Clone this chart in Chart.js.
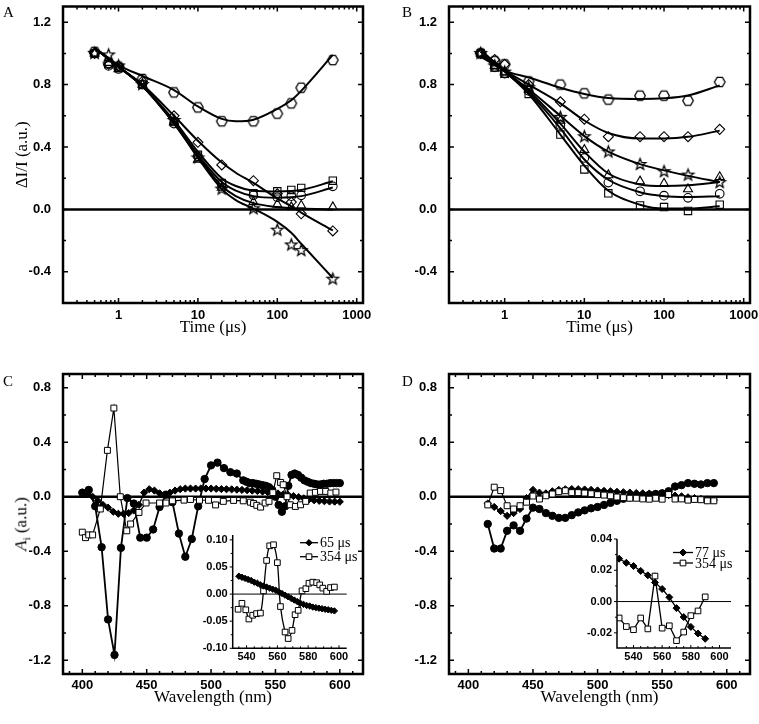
<!DOCTYPE html>
<html>
<head>
<meta charset="utf-8">
<title>Decay kinetics and amplitude spectra</title>
<script src="https://cdn.jsdelivr.net/npm/chart.js@4.4.1/dist/chart.umd.min.js"></script>
<style>
  html, body { margin: 0; padding: 0; background: #fff; }
  #page { position: relative; width: 759px; height: 724px; overflow: hidden; background: #fff; }
  #page canvas { position: absolute; }
  .letter { position: absolute; font: 15px "Liberation Serif", "Times New Roman", serif; line-height: 1; color: #000; }
  #ylabC { position: absolute; left: 22px; top: 524px; transform: translate(-50%, -50%) rotate(-90deg);
           white-space: nowrap; font: 17px "Liberation Serif", "Times New Roman", serif; color: #000; }
  #ylabC sub { font-size: 11px; }
</style>
</head>
<body>
<div id="page">
  <canvas id="chartA" width="380" height="345" style="left:0;top:0"></canvas>
  <canvas id="chartB" width="373" height="345" style="left:386px;top:0"></canvas>
  <canvas id="chartC" width="380" height="364" style="left:0;top:360px"></canvas>
  <canvas id="chartD" width="373" height="364" style="left:386px;top:360px"></canvas>
  <canvas id="insetC" width="180" height="140" style="left:190px;top:525px"></canvas>
  <canvas id="insetD" width="175" height="135" style="left:575px;top:530px"></canvas>
  <div class="letter" style="left:3px;top:5px">A</div>
  <div class="letter" style="left:402px;top:5px">B</div>
  <div class="letter" style="left:3px;top:374px">C</div>
  <div class="letter" style="left:402px;top:374px">D</div>
  <div id="ylabC"><i>A</i><sub>i</sub> (a.u.)</div>
</div>
<script>
// ---- panel A: normalised transients (time in microseconds)
const timeA = [0.5, 0.75, 1, 2, 5, 10, 20, 50, 100, 150, 200, 500];
const aHexagon = [1.01, 0.94, 0.915, 0.836, 0.75, 0.654, 0.565, 0.565, 0.614, 0.68, 0.78, 0.957];
const aDiamond = [1.0, 0.93, 0.92, 0.82, 0.6, 0.43, 0.285, 0.184, 0.1, 0.047, -0.028, -0.138];
const aSquare = [1.0, 0.93, 0.91, 0.8, 0.56, 0.35, 0.17, 0.104, 0.116, 0.125, 0.138, 0.184];
const aCircle = [1.0, 0.92, 0.9, 0.8, 0.55, 0.34, 0.16, 0.09, 0.078, 0.085, 0.09, 0.148];
const aTriangle = [1.0, 0.94, 0.9, 0.8, 0.56, 0.32, 0.14, 0.047, 0.032, 0.015, 0.025, 0.015];
const aStar = [1.0, 0.99, 0.92, 0.8, 0.57, 0.33, 0.13, 0.004, -0.133, -0.228, -0.264, -0.447];

const fitTimeA = [0.5, 1, 2, 5, 10, 20, 30, 50, 100, 150, 200, 500];
const aHexagonFit = [1.035, 0.925, 0.855, 0.765, 0.66, 0.58, 0.565, 0.575, 0.645, 0.7, 0.76, 0.99];
const aDiamondFit = [1.035, 0.915, 0.8, 0.6, 0.44, 0.3, 0.235, 0.17, 0.07, 0.02, -0.02, -0.135];
const aSquareFit = [1.035, 0.915, 0.79, 0.57, 0.37, 0.2, 0.15, 0.12, 0.115, 0.118, 0.125, 0.18];
const aCircleFit = [1.035, 0.915, 0.79, 0.555, 0.35, 0.175, 0.12, 0.085, 0.075, 0.078, 0.085, 0.14];
const aTriangleFit = [1.035, 0.915, 0.79, 0.55, 0.34, 0.15, 0.085, 0.04, 0.015, 0.008, 0.005, 0.0];
const aStarFit = [1.035, 0.915, 0.79, 0.555, 0.33, 0.13, 0.06, 0.005, -0.08, -0.15, -0.22, -0.44];

// ---- panel B
const timeB = [0.5, 0.75, 1, 2, 5, 10, 20, 50, 100, 200, 500];
const bHexagon = [1.0, 0.95, 0.93, 0.82, 0.8, 0.744, 0.704, 0.729, 0.729, 0.697, 0.817];
const bDiamond = [1.0, 0.96, 0.93, 0.8, 0.69, 0.578, 0.466, 0.466, 0.466, 0.466, 0.513];
const bStar = [1.0, 0.92, 0.88, 0.78, 0.59, 0.466, 0.368, 0.288, 0.242, 0.22, 0.172];
const bTriangle = [1.0, 0.92, 0.88, 0.77, 0.57, 0.382, 0.22, 0.18, 0.166, 0.13, 0.208];
const bCircle = [1.0, 0.91, 0.87, 0.76, 0.54, 0.33, 0.172, 0.116, 0.088, 0.074, 0.1];
const bSquare = [1.0, 0.91, 0.87, 0.74, 0.48, 0.256, 0.103, 0.025, 0.015, -0.01, 0.03];

const fitTimeB = [0.5, 1, 2, 5, 10, 20, 50, 100, 200, 500];
const bHexagonFit = [0.98, 0.89, 0.845, 0.78, 0.74, 0.714, 0.708, 0.712, 0.73, 0.795];
const bDiamondFit = [0.99, 0.89, 0.8, 0.68, 0.57, 0.49, 0.455, 0.455, 0.465, 0.505];
const bStarFit = [1.01, 0.885, 0.77, 0.6, 0.47, 0.37, 0.29, 0.25, 0.215, 0.175];
const bTriangleFit = [1.01, 0.885, 0.76, 0.55, 0.37, 0.23, 0.16, 0.15, 0.155, 0.175];
const bCircleFit = [1.02, 0.885, 0.75, 0.52, 0.32, 0.19, 0.11, 0.085, 0.08, 0.085];
const bSquareFit = [1.02, 0.885, 0.74, 0.48, 0.28, 0.12, 0.03, 0.005, 0.005, 0.02];

// ---- panel C: amplitude spectra (nm)
const cCircleNm = [400, 405, 410, 415, 420, 425, 430, 435, 440, 445, 450, 455, 460, 465, 470, 475, 480, 485, 490, 495,
  500, 505, 510, 515, 520, 525, 527.5, 530, 532.5, 535, 537.5, 540, 542.5, 545, 547.5, 550, 552.5, 555, 557.5, 560,
  562.5, 565, 567.5, 570, 572.5, 575, 577.5, 580, 582.5, 585, 587.5, 590, 592.5, 595, 597.5, 600];
const cCircle = [0.03, 0.05, -0.07, -0.37, -0.9, -1.16, -0.375, -0.01, -0.05, -0.3, -0.3, -0.24, -0.075, 0.015, -0.04, -0.27, -0.44, -0.31, -0.07, 0.13,
  0.23, 0.25, 0.21, 0.18, 0.17, 0.12, 0.11, 0.1, 0.1, 0.095, 0.09, 0.085, 0.08, 0.07, 0.05, 0.0, -0.06, -0.11, -0.07, 0.08,
  0.16, 0.17, 0.16, 0.14, 0.12, 0.11, 0.1, 0.095, 0.09, 0.09, 0.095, 0.095, 0.1, 0.1, 0.1, 0.1];
const cDiamondNm = [400, 404, 408, 412, 416, 420, 424, 428, 432, 436, 440, 444, 448, 452, 456, 460, 464, 468, 472, 476,
  480, 484, 488, 492, 496, 500, 504, 508, 512, 516, 520, 524, 528, 532, 536, 540, 544, 548, 552, 556,
  560, 564, 568, 572, 576, 580, 584, 588, 592, 596, 600];
const cDiamond = [0.03, 0.02, 0.0, -0.03, -0.06, -0.08, -0.11, -0.125, -0.125, -0.12, -0.1, -0.06, 0.03, 0.055, 0.045, 0.025, 0.015, 0.03, 0.045, 0.055,
  0.06, 0.06, 0.06, 0.06, 0.06, 0.06, 0.058, 0.056, 0.055, 0.054, 0.052, 0.05, 0.048, 0.045, 0.042, 0.038, 0.034, 0.03, 0.024, 0.018,
  0.012, 0.005, -0.003, -0.012, -0.02, -0.026, -0.03, -0.033, -0.035, -0.036, -0.037];
const cSquareNm = [400, 402.5, 405, 408, 414, 419.5, 424.5, 429.5, 434.5, 437.5, 444, 449.5, 460, 465, 470, 479, 484, 491, 498, 503.5,
  509.5, 517.5, 525, 530.5, 533, 535.5, 538.5, 542, 545, 548, 551, 554, 556, 559, 561.5, 565.5, 569.5, 573.5, 577, 581,
  585, 589, 593, 597];
const cSquare = [-0.26, -0.3, -0.28, -0.28, -0.09, 0.34, 0.65, 0.0, -0.25, -0.2, -0.115, -0.046, -0.046, -0.046, -0.03, -0.025, -0.02, -0.026, -0.026, -0.06,
  -0.034, -0.027, -0.03, -0.04, -0.05, -0.063, -0.076, -0.046, -0.034, 0.03, 0.154, 0.105, 0.088, 0.0, -0.059, -0.071, -0.059, -0.034, 0.027, 0.032,
  0.039, 0.039, 0.027, 0.034];

// inset C
const cInsetDiamondNm = [535, 537, 539, 541, 543, 545, 547, 549, 551, 553, 555, 557, 559, 561, 563, 565, 567, 569, 571, 573,
  575, 577, 579, 581, 583, 585, 587, 589, 591, 593, 595, 597];
const cInsetDiamond = [0.033, 0.031, 0.029, 0.027, 0.025, 0.022, 0.02, 0.017, 0.015, 0.013, 0.011, 0.009, 0.007, 0.004, 0.001, -0.002, -0.005, -0.008, -0.011, -0.014,
  -0.017, -0.019, -0.021, -0.022, -0.024, -0.025, -0.026, -0.027, -0.028, -0.029, -0.03, -0.031];
const cInsetSquareNm = [534.5, 537, 539.5, 541.5, 544, 546.5, 549, 551, 553, 555, 557.5, 560, 562, 565, 567, 569.5, 571.5, 573.5, 576, 578.5,
  580.5, 583, 585.5, 587.5, 589.5, 592, 594.5, 597];
const cInsetSquare = [-0.028, -0.017, -0.029, -0.046, -0.039, -0.036, -0.035, 0.006, 0.062, 0.089, 0.091, 0.058, -0.023, -0.07, -0.082, -0.067, -0.038, -0.03, 0.006, 0.01,
  0.02, 0.022, 0.021, 0.017, 0.011, 0.005, 0.012, 0.013];

// ---- panel D
const dNm = [415, 420, 425, 430, 435, 440, 445, 450, 455, 460, 465, 470, 475, 480, 485, 490, 495, 500,
  505, 510, 515, 520, 525, 530, 535, 540, 545, 550, 555, 560, 565, 570, 575, 580, 585, 590];
const dCircle = [-0.2, -0.38, -0.38, -0.25, -0.21, -0.25, -0.16, -0.08, -0.09, -0.12, -0.14, -0.155, -0.155, -0.135, -0.115, -0.1, -0.085, -0.075,
  -0.06, -0.045, -0.03, -0.015, -0.005, 0.005, 0.01, 0.015, 0.02, 0.025, 0.04, 0.075, 0.085, 0.1, 0.095, 0.09, 0.1, 0.1];
const dDiamond = [-0.05, -0.075, -0.105, -0.14, -0.12, -0.09, -0.01, 0.05, 0.03, 0.025, 0.04, 0.05, 0.055, 0.056, 0.055, 0.053, 0.05, 0.046,
  0.043, 0.04, 0.036, 0.033, 0.03, 0.027, 0.025, 0.023, 0.02, 0.017, 0.012, 0.008, 0.003, -0.004, -0.01, -0.016, -0.02, -0.024];
const dSquare = [-0.06, 0.07, 0.045, -0.066, -0.09, -0.066, -0.04, 0.005, -0.017, 0.007, 0.02, 0.037, 0.044, 0.03, 0.03, 0.027, 0.022, 0.015,
  0.012, 0.007, -0.002, -0.007, -0.011, -0.011, -0.016, -0.018, -0.011, -0.018, 0.016, -0.017, -0.016, -0.025, -0.02, -0.022, -0.03, -0.03];

// inset D
const dInsetNm = [530, 535, 540, 545, 550, 555, 560, 565, 570, 575, 580, 585, 590];
const dInsetDiamond = [0.0274, 0.0248, 0.0227, 0.0196, 0.0168, 0.0122, 0.008, 0.0027, -0.0042, -0.0099, -0.0162, -0.0204, -0.0238];
const dInsetSquare = [-0.0105, -0.016, -0.018, -0.0105, -0.0175, 0.0163, -0.017, -0.0155, -0.025, -0.0195, -0.009, -0.006, 0.003];

// ---- tick positions
const logMajor = [1, 10, 100, 1000];
const logMinor = [0.2, 0.3, 0.4, 0.5, 0.6, 0.7, 0.8, 0.9, 2, 3, 4, 5, 6, 7, 8, 9, 20, 30, 40, 50, 60, 70, 80, 90,
  200, 300, 400, 500, 600, 700, 800, 900];
const kinMajor = [-0.4, 0.0, 0.4, 0.8, 1.2];
const kinMinor = [-0.6, -0.2, 0.2, 0.6, 1.0];
const nmMajor = [400, 450, 500, 550, 600];
const nmMinor = [390, 410, 420, 430, 440, 460, 470, 480, 490, 510, 520, 530, 540, 560, 570, 580, 590, 610];
const ampMajor = [-1.2, -0.8, -0.4, 0.0, 0.4, 0.8];
const ampMinor = [-1.0, -0.6, -0.2, 0.2, 0.6];
const insetNmMajor = [540, 560, 580, 600];
const insetNmMinor = [535, 545, 550, 555, 565, 570, 575, 585, 590, 595];
const insetCMajor = [-0.1, -0.05, 0.0, 0.05, 0.1];
const insetCMinor = [-0.075, -0.025, 0.025, 0.075];
const insetDMajor = [-0.02, 0.0, 0.02, 0.04];
const insetDMinor = [-0.01, 0.01, 0.03];

// ---- marker images that Chart.js lacks
function shape(kind, r) {
  const c = document.createElement('canvas');
  const s = Math.ceil(2 * r + 5);
  c.width = c.height = s;
  const g = c.getContext('2d');
  const m = s / 2;
  g.beginPath();
  if (kind === 'hex') {
    for (let i = 0; i < 6; i++) {
      const a = i * Math.PI / 3;
      g.lineTo(m + r * Math.cos(a), m + r * Math.sin(a));
    }
  } else {
    for (let i = 0; i < 10; i++) {
      const a = -Math.PI / 2 + i * Math.PI / 5;
      const rr = i % 2 ? r * 0.42 : r;
      g.lineTo(m + rr * Math.cos(a), m + rr * Math.sin(a));
    }
  }
  g.closePath();
  g.strokeStyle = '#000';
  g.lineWidth = 1.3;
  g.stroke();
  return c;
}
const hexImg = shape('hex', 5.3);
const starImg = shape('star', 6);

// ---- plugins
const framePlugin = {
  id: 'frame',
  beforeDatasetsDraw(chart, args, o) {
    if (!o.zeroWidth) return;
    const {ctx, chartArea: a, scales} = chart;
    const y0 = scales.y.getPixelForValue(0);
    ctx.save();
    ctx.strokeStyle = '#000';
    ctx.lineWidth = o.zeroWidth;
    ctx.beginPath();
    ctx.moveTo(a.left, y0);
    ctx.lineTo(a.right, y0);
    ctx.stroke();
    ctx.restore();
  },
  afterDraw(chart, args, o) {
    const {ctx, chartArea: a, scales: {x, y}} = chart;
    ctx.save();
    ctx.strokeStyle = '#000';
    ctx.lineWidth = o.tickWidth;
    ctx.beginPath();
    const xTicks = (vals, len) => vals.forEach(v => {
      const p = x.getPixelForValue(v);
      if (p < a.left - 0.5 || p > a.right + 0.5) return;
      ctx.moveTo(p, a.bottom);
      ctx.lineTo(p, a.bottom - len);
      if (o.box) { ctx.moveTo(p, a.top); ctx.lineTo(p, a.top + len); }
    });
    const yTicks = (vals, len) => vals.forEach(v => {
      const p = y.getPixelForValue(v);
      if (p < a.top - 0.5 || p > a.bottom + 0.5) return;
      ctx.moveTo(a.left, p);
      ctx.lineTo(a.left + (o.yOut ? -len : len), p);
      if (o.box) { ctx.moveTo(a.right, p); ctx.lineTo(a.right - len, p); }
    });
    xTicks(o.xMajor, o.major);
    xTicks(o.xMinor, o.minor);
    yTicks(o.yMajor, o.major);
    yTicks(o.yMinor, o.minor);
    ctx.stroke();
    ctx.lineWidth = o.lineWidth;
    ctx.beginPath();
    if (o.box) {
      ctx.rect(a.left, a.top, a.right - a.left, a.bottom - a.top);
    } else {
      ctx.moveTo(a.left, a.top);
      ctx.lineTo(a.left, a.bottom);
      ctx.lineTo(a.right, a.bottom);
    }
    ctx.stroke();
    ctx.restore();
  }
};

const keyPlugin = {
  id: 'key',
  afterDraw(chart, args, o) {
    const ctx = chart.ctx;
    ctx.save();
    ctx.font = o.font;
    ctx.textBaseline = 'middle';
    chart.data.datasets.forEach((ds, i) => {
      const yy = o.top + i * o.gap;
      ctx.strokeStyle = '#000';
      ctx.lineWidth = ds.borderWidth;
      ctx.beginPath();
      ctx.moveTo(o.left, yy);
      ctx.lineTo(o.left + o.len, yy);
      ctx.stroke();
      ctx.fillStyle = ds.pointBackgroundColor;
      ctx.lineWidth = 1;
      Chart.helpers.drawPoint(ctx, {pointStyle: ds.pointStyle, radius: ds.pointRadius, borderWidth: 1, rotation: 0},
        o.left + o.len / 2, yy);
      ctx.fillStyle = '#000';
      ctx.fillText(ds.label, o.left + o.len + 2, yy + 1);
    });
    ctx.restore();
  }
};

Chart.register(framePlugin, keyPlugin);
Chart.defaults.font.family = '"Liberation Sans", Arial, sans-serif';
Chart.defaults.color = '#000';

// ---- helpers
const pts = (xs, ys) => xs.map((x, i) => ({x, y: ys[i]}));

function axis(type, min, max, major, fmt, size, isY, tickFont, tickPad, title, titlePad) {
  return {
    type, min, max,
    afterBuildTicks: s => { s.ticks = major.map(v => ({value: v})); },
    afterFit: s => {
      if (isY) s.width = size; else s.height = size;
      s.paddingLeft = s.paddingRight = s.paddingTop = s.paddingBottom = 0;
    },
    grid: {display: false, drawTicks: false},
    border: {display: false},
    ticks: {
      autoSkip: false, maxRotation: 0, padding: tickPad, color: '#000',
      font: {family: '"Liberation Sans", Arial, sans-serif', size: tickFont, weight: 'bold'},
      callback: fmt
    },
    title: title ? {
      display: true, text: title, color: '#000', padding: titlePad,
      font: {family: '"Liberation Serif", "Times New Roman", serif', size: 17, weight: 'normal'}
    } : {display: false}
  };
}

function draw(id, datasets, x, y, pad, frame, key) {
  return new Chart(document.getElementById(id), {
    type: 'scatter',
    data: {datasets},
    options: {
      responsive: false, animation: false, devicePixelRatio: 1,
      layout: {padding: pad},
      plugins: {legend: {display: false}, tooltip: {enabled: false}, frame, key: key || false},
      scales: {x, y}
    }
  });
}

function markers(xs, ys, style, r, fill) {
  return {data: pts(xs, ys), pointStyle: style, pointRadius: r, pointBorderWidth: 1.1,
    pointBorderColor: '#000', pointBackgroundColor: fill || 'rgba(0,0,0,0)', showLine: false};
}
function fit(xs, ys) {
  return {data: pts(xs, ys), pointRadius: 0, showLine: true, borderColor: '#000', borderWidth: 2,
    cubicInterpolationMode: 'monotone'};
}
function joined(xs, ys, style, r, fill, lw, label, tension) {
  return {label, data: pts(xs, ys), pointStyle: style, pointRadius: r, pointBorderWidth: 1,
    pointBorderColor: '#000', pointBackgroundColor: fill, showLine: true, borderColor: '#000',
    borderWidth: lw, tension: tension || 0};
}

const fmt1 = v => v.toFixed(1);
const fmt2 = v => v.toFixed(2);
const fmtLog = v => String(v);
const mainFrame = (xMajor, xMinor, yMajor, yMinor) => ({box: true, lineWidth: 2.5, tickWidth: 1.5, major: 5, minor: 3,
  zeroWidth: 2.5, xMajor, xMinor, yMajor, yMinor});

// ---- A
draw('chartA', [
  markers(timeA, aHexagon, hexImg, 5), markers(timeA, aDiamond, 'rectRot', 5),
  markers(timeA, aSquare, 'rect', 5.2), markers(timeA, aCircle, 'circle', 4.3),
  markers(timeA, aTriangle, 'triangle', 5.2), markers(timeA, aStar, starImg, 5.5),
  fit(fitTimeA, aHexagonFit), fit(fitTimeA, aDiamondFit), fit(fitTimeA, aSquareFit),
  fit(fitTimeA, aCircleFit), fit(fitTimeA, aTriangleFit), fit(fitTimeA, aStarFit)
],
  axis('logarithmic', 0.2, 1200, logMajor, fmtLog, 42, false, 13, 5, 'Time (\u03bcs)', {top: 0, bottom: 7}),
  axis('linear', -0.6, 1.3, kinMajor, fmt1, 63, true, 13, 12, '\u0394I/I (a.u.)', {top: 12, bottom: 0}),
  {top: 2, right: 17, bottom: 0, left: 0},
  mainFrame(logMajor, logMinor, kinMajor, kinMinor));

// ---- B
draw('chartB', [
  markers(timeB, bHexagon, hexImg, 5), markers(timeB, bDiamond, 'rectRot', 5),
  markers(timeB, bStar, starImg, 5.5), markers(timeB, bTriangle, 'triangle', 5.2),
  markers(timeB, bCircle, 'circle', 4.3), markers(timeB, bSquare, 'rect', 5.2),
  fit(fitTimeB, bHexagonFit), fit(fitTimeB, bDiamondFit), fit(fitTimeB, bStarFit),
  fit(fitTimeB, bTriangleFit), fit(fitTimeB, bCircleFit), fit(fitTimeB, bSquareFit)
],
  axis('logarithmic', 0.2, 1200, logMajor, fmtLog, 42, false, 13, 5, 'Time (\u03bcs)', {top: 0, bottom: 7}),
  axis('linear', -0.6, 1.3, kinMajor, fmt1, 63, true, 13, 12, null),
  {top: 2, right: 9, bottom: 0, left: 0},
  mainFrame(logMajor, logMinor, kinMajor, kinMinor));

// ---- C
draw('chartC', [
  joined(cSquareNm, cSquare, 'rect', 4.2, '#fff', 1.2),
  joined(cCircleNm, cCircle, 'circle', 3.7, '#000', 1.8),
  joined(cDiamondNm, cDiamond, 'rectRot', 3.6, '#000', 1.5)
],
  axis('linear', 385, 618, nmMajor, v => String(v), 50, false, 13, 4, 'Wavelength (nm)', {top: 0, bottom: 16}),
  axis('linear', -1.3, 0.9, ampMajor, fmt1, 63, true, 13, 12, null),
  {top: 14, right: 17, bottom: 0, left: 0},
  mainFrame(nmMajor, nmMinor, ampMajor, ampMinor));

// ---- D
draw('chartD', [
  joined(dNm, dSquare, 'rect', 4.2, '#fff', 1.2),
  joined(dNm, dDiamond, 'rectRot', 3.6, '#000', 1.5),
  joined(dNm, dCircle, 'circle', 3.7, '#000', 1.8)
],
  axis('linear', 385, 618, nmMajor, v => String(v), 50, false, 13, 4, 'Wavelength (nm)', {top: 0, bottom: 16}),
  axis('linear', -1.3, 0.9, ampMajor, fmt1, 63, true, 13, 12, null),
  {top: 14, right: 9, bottom: 0, left: 0},
  mainFrame(nmMajor, nmMinor, ampMajor, ampMinor));

// ---- insets
const insetFrame = (yMajor, yMinor) => ({box: false, lineWidth: 1.5, tickWidth: 1, major: 3, minor: 2, yOut: true,
  zeroWidth: 1, xMajor: insetNmMajor, xMinor: insetNmMinor, yMajor, yMinor});

draw('insetC', [
  joined(cInsetDiamondNm, cInsetDiamond, 'rectRot', 3.2, '#000', 1.3, '65 \u03bcs'),
  joined(cInsetSquareNm, cInsetSquare, 'rect', 4, '#fff', 1.3, '354 \u03bcs', 0.35)
],
  axis('linear', 531, 605, insetNmMajor, v => String(v), 16.7, false, 11, 2, null),
  axis('linear', -0.1, 0.109, insetCMajor, fmt2, 42.7, true, 11, 5, null),
  {top: 10, right: 23.3, bottom: 0, left: 0},
  insetFrame(insetCMajor, insetCMinor),
  {left: 110, top: 17.7, gap: 14, len: 18, font: '14px "Liberation Serif", "Times New Roman", serif'});

draw('insetD', [
  joined(dInsetNm, dInsetDiamond, 'rectRot', 3.5, '#000', 1.3, '77 \u03bcs'),
  joined(dInsetNm, dInsetSquare, 'rect', 4, '#fff', 1.3, '354 \u03bcs')
],
  axis('linear', 528.5, 608, insetNmMajor, v => String(v), 17, false, 11, 2, null),
  axis('linear', -0.0297, 0.04, insetDMajor, fmt2, 42, true, 11, 5, null),
  {top: 9, right: 19, bottom: 0, left: 0},
  insetFrame(insetDMajor, insetDMinor),
  {left: 98, top: 22.5, gap: 10.5, len: 20, font: '14px "Liberation Serif", "Times New Roman", serif'});
</script>
</body>
</html>
